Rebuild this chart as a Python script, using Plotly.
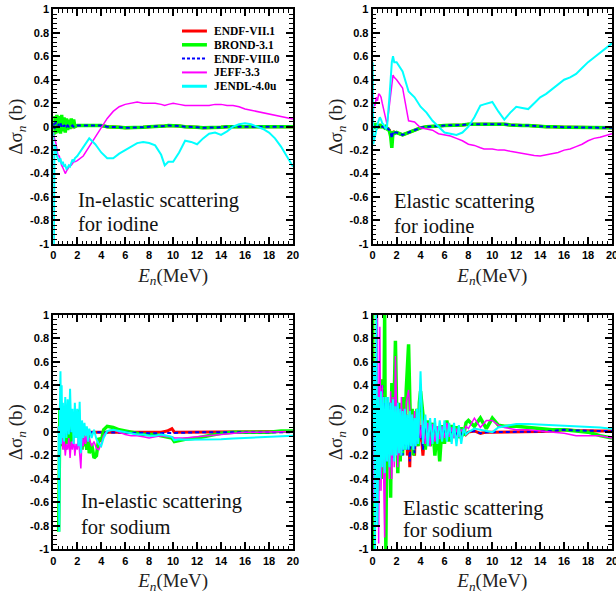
import plotly.graph_objects as go
from plotly.subplots import make_subplots

# ---------------------------------------------------------------------------
# Evaluated-library cross-section differences, Δσ_n (barn) vs neutron energy
# ---------------------------------------------------------------------------
LIBRARIES = ["ENDF-VII.1", "BROND-3.1", "ENDF-VIII.0", "JEFF-3.3", "JENDL-4.0u"]

# Energy grid (MeV) for iodine
E_IODINE = [0.0, 0.05, 0.1, 0.2, 0.3, 0.4, 0.5, 0.6, 0.7, 0.8,
            0.9, 1.0, 1.1, 1.2, 1.3, 1.4, 1.5, 1.6, 1.7, 1.8,
            2.0, 2.5, 3.0, 3.5, 4.0, 4.5, 5.0, 5.5, 6.0, 6.5,
            7.0, 7.5, 8.0, 8.5, 9.0, 9.3, 9.6, 10.0, 10.5, 11.0,
            11.5, 12.0, 12.5, 13.0, 13.5, 14.0, 14.5, 15.0, 15.5, 16.0,
            16.5, 17.0, 17.5, 18.0, 18.5, 19.0, 19.5, 20.0]

# Iodine, inelastic scattering
I_INEL_ENDF71 = [0.03, -0.02, 0.03, -0.02, 0.04, -0.03, 0.03, -0.02, 0.03, -0.02,
                 0.02, -0.01, 0.02, 0.0, 0.01, 0.0, 0.01, 0.0, 0.01, 0.0,
                 0.01, 0.01, 0.01, 0.01, 0.01, 0.0, 0.0, -0.005, -0.01, -0.01,
                 -0.01, -0.005, 0.0, 0.0, 0.005, 0.005, 0.01, 0.01, 0.005, 0.0,
                 0.0, -0.005, -0.01, -0.01, -0.01, -0.005, 0.0, 0.0, 0.0, 0.0,
                 0.0, 0.0, 0.0, 0.0, 0.0, 0.0, 0.0, 0.0]
I_INEL_BROND = [0.08, -0.07, 0.09, -0.06, 0.1, -0.05, 0.09, -0.06, 0.1, -0.04,
                0.08, -0.05, 0.07, -0.03, 0.06, -0.02, 0.07, -0.01, 0.06, 0.0,
                0.01, 0.01, 0.01, 0.01, 0.01, 0.0, 0.0, -0.005, -0.01, -0.01,
                -0.01, -0.005, 0.0, 0.0, 0.005, 0.005, 0.01, 0.01, 0.005, 0.0,
                0.0, -0.005, -0.01, -0.01, -0.01, -0.005, 0.0, 0.0, 0.0, 0.0,
                0.0, 0.0, 0.0, 0.0, 0.0, 0.0, 0.0, 0.0]
I_INEL_ENDF80 = [0.0, 0.03, -0.02, 0.04, -0.01, 0.03, 0.0, 0.03, 0.0, 0.02,
                 0.0, 0.02, 0.0, 0.01, 0.0, 0.01, 0.0, 0.01, 0.0, 0.01,
                 0.01, 0.01, 0.01, 0.01, 0.01, 0.0, 0.0, -0.005, -0.01, -0.01,
                 -0.01, -0.005, 0.0, 0.0, 0.005, 0.005, 0.01, 0.01, 0.005, 0.0,
                 0.0, -0.005, -0.01, -0.01, -0.01, -0.005, 0.0, 0.0, 0.0, 0.0,
                 0.0, 0.0, 0.0, 0.0, 0.0, 0.0, 0.0, 0.0]
I_INEL_JEFF = [-0.05, -0.08, -0.1, -0.13, -0.2, -0.25, -0.25, -0.3, -0.33, -0.35,
               -0.37, -0.4, -0.38, -0.36, -0.35, -0.33, -0.33, -0.31, -0.3, -0.3,
               -0.29, -0.25, -0.17, -0.08, 0.0, 0.07, 0.13, 0.17, 0.19, 0.2,
               0.21, 0.2, 0.2, 0.2, 0.19, 0.18, 0.19, 0.2, 0.19, 0.18,
               0.18, 0.18, 0.18, 0.18, 0.19, 0.19, 0.18, 0.18, 0.17, 0.15,
               0.14, 0.13, 0.12, 0.11, 0.1, 0.09, 0.08, 0.065]
I_INEL_JENDL = [-0.05, -1.0, -0.15, -0.18, -0.25, -0.28, -0.3, -0.27, -0.32, -0.3,
                -0.34, -0.33, -0.36, -0.35, -0.33, -0.34, -0.3, -0.28, -0.3, -0.27,
                -0.25, -0.18, -0.1, -0.15, -0.22, -0.27, -0.27, -0.23, -0.2, -0.17,
                -0.14, -0.13, -0.14, -0.16, -0.24, -0.33, -0.3, -0.3, -0.22, -0.12,
                -0.13, -0.15, -0.1, -0.06, -0.05, -0.07, -0.04, 0.0, 0.02, 0.03,
                0.02, 0.0, -0.02, -0.05, -0.1, -0.17, -0.25, -0.34]

# Iodine, elastic scattering
I_EL_ENDF71 = [0.0, 0.01, -0.01, 0.02, -0.01, 0.01, 0.0, 0.01, 0.0, 0.0,
               0.0, -0.01, 0.0, -0.01, -0.02, -0.03, -0.06, -0.12, -0.04, -0.05,
               -0.05, -0.07, -0.05, -0.03, -0.01, 0.0, 0.0, 0.005, 0.01, 0.01,
               0.015, 0.015, 0.02, 0.02, 0.02, 0.025, 0.025, 0.025, 0.02, 0.02,
               0.015, 0.01, 0.01, 0.01, 0.005, 0.0, 0.0, 0.0, -0.005, -0.005,
               -0.005, -0.005, -0.005, -0.005, -0.01, -0.01, -0.01, -0.01]
I_EL_BROND = [0.0, 0.02, -0.02, 0.03, -0.02, 0.02, -0.01, 0.02, 0.0, 0.0,
              0.0, -0.01, 0.0, -0.02, -0.02, -0.04, -0.08, -0.18, -0.04, -0.06,
              -0.05, -0.07, -0.05, -0.03, -0.01, 0.0, 0.0, 0.005, 0.01, 0.01,
              0.015, 0.015, 0.02, 0.02, 0.02, 0.025, 0.025, 0.025, 0.02, 0.02,
              0.015, 0.01, 0.01, 0.01, 0.005, 0.0, 0.0, 0.0, -0.005, -0.005,
              -0.005, -0.005, -0.005, -0.005, -0.01, -0.01, -0.01, -0.01]
I_EL_ENDF80 = [0.0, 0.01, -0.01, 0.01, 0.0, 0.01, 0.0, 0.0, 0.0, 0.0,
               0.0, -0.01, 0.0, -0.01, -0.02, -0.03, -0.05, -0.1, -0.04, -0.05,
               -0.05, -0.07, -0.05, -0.03, -0.01, 0.0, 0.0, 0.005, 0.01, 0.01,
               0.015, 0.015, 0.02, 0.02, 0.02, 0.025, 0.025, 0.025, 0.02, 0.02,
               0.015, 0.01, 0.01, 0.01, 0.005, 0.0, 0.0, 0.0, -0.005, -0.005,
               -0.005, -0.005, -0.005, -0.005, -0.01, -0.01, -0.01, -0.01]
I_EL_JEFF = [0.05, 0.15, 0.2, 0.18, 0.25, 0.22, 0.28, 0.27, 0.25, 0.2,
             0.15, 0.1, 0.05, 0.02, 0.1, 0.2, 0.3, 0.38, 0.44, 0.42,
             0.4, 0.33, 0.05, 0.04, -0.01, -0.02, -0.03, -0.06, -0.07, -0.08,
             -0.1, -0.12, -0.15, -0.16, -0.18, -0.19, -0.19, -0.19, -0.2, -0.2,
             -0.21, -0.22, -0.23, -0.24, -0.245, -0.25, -0.24, -0.23, -0.22, -0.2,
             -0.19, -0.17, -0.15, -0.12, -0.1, -0.09, -0.075, -0.06]
I_EL_JENDL = [0.55, -0.15, -0.12, -0.08, -0.02, 0.02, 0.05, 0.08, 0.06, 0.03,
              0.02, 0.0, -0.02, 0.0, 0.1, 0.25, 0.4, 0.55, 0.6, 0.55,
              0.55, 0.47, 0.3, 0.25, 0.17, 0.12, 0.05, 0.0, -0.05, -0.06,
              -0.07, -0.05, 0.0, 0.08, 0.18, 0.19, 0.2, 0.21, 0.13, 0.06,
              0.12, 0.17, 0.16, 0.15, 0.2, 0.25, 0.28, 0.32, 0.36, 0.4,
              0.42, 0.45, 0.5, 0.55, 0.59, 0.63, 0.67, 0.71]

# Energy grid (MeV) for sodium, inelastic scattering
E_NA_INEL = [0.45, 0.5, 0.55, 0.6, 0.65, 0.7, 0.75, 0.8, 0.9, 1.0,
             1.1, 1.2, 1.3, 1.4, 1.5, 1.6, 1.7, 1.8, 1.9, 2.0,
             2.1, 2.2, 2.3, 2.4, 2.5, 2.6, 2.7, 2.8, 2.9, 3.0,
             3.2, 3.4, 3.6, 3.8, 4.0, 4.2, 4.5, 5.0, 5.5, 6.0,
             6.5, 7.0, 7.5, 8.0, 8.5, 9.0, 9.5, 9.9, 10.1, 10.5,
             11.0, 12.0, 13.0, 14.0, 15.0, 16.0, 17.0, 18.0, 19.0, 20.0]

NA_INEL_ENDF71 = [0.0, 0.05, -0.05, 0.08, -0.05, 0.06, -0.04, 0.05, -0.03, 0.04,
                  -0.03, 0.04, -0.02, 0.03, -0.02, 0.03, -0.01, 0.02, -0.01, 0.02,
                  -0.01, 0.01, 0.0, 0.01, 0.0, 0.0, 0.0, 0.0, 0.0, 0.0,
                  0.0, 0.0, 0.0, 0.0, 0.0, 0.0, 0.0, 0.0, 0.0, 0.0,
                  0.0, 0.0, 0.005, 0.0, 0.005, 0.0, 0.01, 0.03, 0.0, 0.0,
                  0.0, 0.0, 0.0, 0.0, 0.0, 0.0, 0.0, 0.0, 0.0, 0.005]
NA_INEL_BROND = [-0.85, 0.05, 0.2, -0.1, 0.18, -0.12, 0.2, -0.05, 0.15, -0.15,
                 0.12, -0.1, 0.2, -0.12, 0.15, -0.08, 0.12, -0.05, 0.18, -0.05,
                 0.19, -0.1, 0.05, -0.15, 0.05, -0.12, -0.05, -0.15, 0.0, -0.18,
                 -0.1, -0.22, -0.2, -0.05, -0.08, 0.02, 0.05, 0.04, 0.02, 0.01,
                 0.0, -0.01, -0.02, -0.02, -0.02, -0.03, -0.04, -0.05, -0.08, -0.07,
                 -0.06, -0.05, -0.03, -0.01, 0.0, 0.0, 0.0, 0.0, 0.01, 0.01]
NA_INEL_ENDF80 = [0.0, 0.03, -0.03, 0.05, -0.03, 0.04, -0.02, 0.03, -0.02, 0.02,
                  -0.02, 0.02, -0.01, 0.02, -0.01, 0.01, 0.0, 0.01, 0.0, 0.01,
                  0.0, 0.0, 0.0, 0.0, 0.0, 0.0, 0.0, 0.0, 0.0, 0.0,
                  0.0, 0.0, 0.0, 0.0, 0.0, 0.0, 0.0, 0.0, 0.0, 0.0,
                  0.0, -0.005, -0.005, -0.01, -0.01, -0.01, -0.01, -0.01, -0.01, -0.01,
                  -0.005, 0.0, 0.0, 0.0, 0.0, 0.0, 0.0, 0.0, 0.0, 0.0]
NA_INEL_JEFF = [0.0, -0.1, 0.0, -0.05, -0.1, -0.02, -0.08, -0.15, -0.05, -0.2,
                -0.1, -0.15, -0.05, -0.22, -0.08, -0.15, -0.05, -0.2, -0.1, -0.15,
                -0.05, -0.2, -0.31, -0.05, -0.12, -0.03, -0.1, -0.02, -0.08, -0.05,
                -0.12, -0.08, -0.14, -0.15, -0.1, -0.03, 0.01, 0.02, 0.0, -0.02,
                -0.03, -0.03, -0.04, -0.05, -0.04, -0.03, -0.04, -0.04, -0.05, -0.05,
                -0.05, -0.04, -0.03, -0.02, -0.01, 0.0, 0.0, 0.0, 0.0, 0.005]
NA_INEL_JENDL = [0.05, -0.85, 0.2, 0.52, -0.1, 0.4, -0.05, 0.25, -0.08, 0.3,
                 -0.05, 0.28, -0.02, 0.37, 0.0, 0.2, -0.1, 0.25, -0.05, 0.2,
                 -0.12, 0.26, -0.18, 0.1, -0.05, 0.08, -0.03, 0.05, -0.08, 0.03,
                 -0.05, 0.02, -0.06, -0.1, -0.12, -0.05, 0.01, 0.02, 0.01, 0.0,
                 -0.01, -0.02, -0.02, -0.03, -0.03, -0.02, -0.03, -0.04, -0.07, -0.06,
                 -0.065, -0.065, -0.06, -0.06, -0.055, -0.05, -0.045, -0.04, -0.035, -0.03]

# Energy grid (MeV) for sodium, elastic scattering
E_NA_EL = [0.0, 0.1, 0.2, 0.3, 0.4, 0.5, 0.6, 0.7, 0.8, 0.9,
           1.0, 1.1, 1.2, 1.3, 1.4, 1.5, 1.6, 1.7, 1.8, 1.9,
           2.0, 2.1, 2.2, 2.3, 2.4, 2.5, 2.6, 2.7, 2.8, 2.9,
           3.0, 3.1, 3.2, 3.3, 3.4, 3.5, 3.6, 3.7, 3.8, 3.9,
           4.0, 4.2, 4.4, 4.6, 4.8, 5.0, 5.2, 5.4, 5.6, 5.8,
           6.0, 6.2, 6.4, 6.6, 6.8, 7.0, 7.2, 7.4, 7.6, 7.8,
           8.0, 8.5, 9.0, 9.5, 10.0, 10.5, 11.0, 12.0, 13.0, 14.0,
           15.0, 16.0, 17.0, 18.0, 19.0, 20.0]

NA_EL_ENDF71 = [0.2, -0.3, 0.3, -0.25, 0.2, -0.3, 0.25, -0.2, 0.45, -0.25,
                0.3, -0.2, 0.2, -0.25, 0.2, -0.15, 0.25, -0.2, 0.2, -0.15,
                0.2, -0.25, 0.15, -0.2, 0.15, -0.15, 0.2, -0.1, 0.15, -0.2,
                0.1, -0.3, 0.12, -0.1, 0.1, -0.2, 0.08, -0.12, 0.1, -0.08,
                0.06, -0.2, 0.08, -0.1, 0.06, -0.05, 0.04, -0.06, 0.05, -0.04,
                0.04, -0.05, 0.03, -0.03, 0.02, -0.03, 0.03, -0.05, 0.02, -0.02,
                0.0, 0.01, -0.01, 0.0, 0.0, 0.0, 0.0, 0.0, 0.005, 0.005,
                0.01, 0.02, 0.015, 0.01, 0.01, 0.01]
NA_EL_BROND = [1.0, -1.0, 0.3, -0.2, 0.4, -0.5, 0.35, -0.3, 0.45, -0.4,
               1.0, -1.0, 0.3, -0.3, 0.25, -0.56, 0.42, -0.2, 0.3, 0.78,
               0.2, -0.35, 0.25, -0.25, 0.2, -0.2, 0.3, -0.15, 0.35, 0.5,
               0.75, 0.3, -0.15, 0.2, -0.2, 0.15, -0.1, 0.2, -0.12, 0.25,
               0.35, 0.15, -0.15, 0.1, -0.12, 0.08, -0.2, 0.05, -0.25, 0.06,
               -0.1, 0.1, -0.08, 0.06, -0.05, 0.05, -0.05, 0.04, -0.03, 0.08,
               0.1, 0.05, 0.12, 0.03, 0.12, 0.06, 0.05, 0.05, 0.04, 0.03,
               0.02, 0.02, 0.01, 0.0, -0.03, -0.05]
NA_EL_ENDF80 = [0.15, -0.25, 0.3, -0.2, 0.25, -0.2, 0.3, -0.15, 0.4, -0.2,
                0.25, -0.25, 0.2, -0.2, 0.25, -0.1, 0.2, -0.22, 0.15, -0.1,
                0.15, -0.2, 0.2, -0.15, 0.1, -0.2, 0.15, -0.12, 0.1, -0.15,
                0.12, -0.25, 0.1, -0.12, 0.08, -0.18, 0.1, -0.1, 0.08, -0.06,
                0.05, -0.15, 0.06, -0.08, 0.05, -0.06, 0.03, -0.05, 0.04, -0.03,
                0.03, -0.04, 0.02, -0.02, 0.02, -0.02, 0.02, -0.03, 0.01, -0.01,
                0.0, 0.01, -0.01, 0.0, 0.0, 0.0, 0.0, 0.0, 0.005, 0.005,
                0.01, 0.02, 0.015, 0.01, 0.01, 0.01]
NA_EL_JEFF = [0.2, -0.6, 0.5, -0.4, 1.0, -0.95, 0.9, -0.5, 0.4, -0.3,
              -0.9, 0.3, -0.2, 0.25, -0.4, 0.35, -0.4, 0.3, -0.3, 0.65,
              0.25, -0.3, 0.2, -0.2, 0.3, -0.15, 0.2, -0.1, 0.25, 0.3,
              0.36, 0.2, -0.12, 0.15, -0.15, 0.18, -0.1, 0.12, -0.08, 0.1,
              -0.05, 0.1, -0.1, 0.08, -0.12, 0.07, -0.08, 0.05, -0.06, 0.05,
              -0.05, 0.08, -0.04, 0.04, -0.05, 0.03, -0.04, 0.02, 0.0, 0.05,
              0.03, 0.12, 0.04, 0.1, 0.1, 0.06, 0.04, 0.02, 0.02, 0.01,
              0.0, -0.01, -0.03, -0.03, -0.03, -0.05]
NA_EL_JENDL = [0.0, 0.6, -1.0, 1.0, -0.8, 0.3, -0.4, 0.35, -0.3, 0.3,
               -0.35, 0.3, -0.25, 0.3, -0.3, 0.25, -0.2, 0.28, -0.25, 0.22,
               -0.2, 0.25, -0.18, 0.2, -0.2, 0.18, -0.15, 0.2, -0.15, 0.15,
               -0.15, 0.18, -0.12, 0.15, -0.15, 0.12, -0.12, 0.2, -0.1, 0.3,
               0.52, -0.1, 0.15, -0.12, 0.12, -0.1, 0.12, -0.1, 0.1, -0.08,
               0.1, -0.08, 0.08, -0.1, 0.08, -0.12, 0.06, -0.1, 0.03, -0.02,
               0.0, 0.03, 0.02, 0.01, 0.0, 0.04, 0.05, 0.07, 0.07, 0.065,
               0.06, 0.055, 0.05, 0.05, 0.04, 0.03]

# Axis ticks
X_TICKS = [0, 2, 4, 6, 8, 10, 12, 14, 16, 18, 20]
Y_TICKS = [-1, -0.8, -0.6, -0.4, -0.2, 0, 0.2, 0.4, 0.6, 0.8, 1]
Y_TICK_TEXT = ["-1", "-0.8", "-0.6", "-0.4", "-0.2", "0", "0.2", "0.4", "0.6", "0.8", "1"]

# Line styles per library (colour, width, dash)
STYLE = {
    "ENDF-VII.1": ("#ff0000", 3.0, "solid"),
    "BROND-3.1": ("#00ff00", 3.5, "solid"),
    "ENDF-VIII.0": ("#0000ff", 2.0, "4px,3px"),
    "JEFF-3.3": ("#ff00ff", 1.5, "solid"),
    "JENDL-4.0u": ("#00ffff", 2.0, "solid"),
}

PANELS = [
    # (row, col, energy grid, series in library order, caption lines)
    (1, 1, E_IODINE,
     [I_INEL_ENDF71, I_INEL_BROND, I_INEL_ENDF80, I_INEL_JEFF, I_INEL_JENDL],
     ["In-elastic scattering", "for iodine"]),
    (1, 2, E_IODINE,
     [I_EL_ENDF71, I_EL_BROND, I_EL_ENDF80, I_EL_JEFF, I_EL_JENDL],
     ["Elastic scattering", "for iodine"]),
    (2, 1, E_NA_INEL,
     [NA_INEL_ENDF71, NA_INEL_BROND, NA_INEL_ENDF80, NA_INEL_JEFF, NA_INEL_JENDL],
     ["In-elastic scattering", "for sodium"]),
    (2, 2, E_NA_EL,
     [NA_EL_ENDF71, NA_EL_BROND, NA_EL_ENDF80, NA_EL_JEFF, NA_EL_JENDL],
     ["Elastic scattering", "for sodium"]),
]

# caption placement inside each panel: left edge and the two line centres
# (axis-domain units)
CAPTION_POS = [(0.093, 0.187, 0.085), (0.082, 0.181, 0.077),
               (0.108, 0.203, 0.097), (0.120, 0.176, 0.082)]

X_DOMAINS = {1: [0.0865, 0.4756], 2: [0.6050, 0.9935]}
Y_DOMAINS = {1: [0.5940, 0.9845], 2: [0.0860, 0.4759]}

SERIF = "Liberation Serif"
SANS = "Liberation Sans"

fig = make_subplots(rows=2, cols=2)

for idx, (row, col, energy, series, caption) in enumerate(PANELS):
    for name, values in zip(LIBRARIES, series):
        color, width, dash = STYLE[name]
        fig.add_trace(
            go.Scatter(x=energy, y=values, mode="lines", name=name,
                       line=dict(color=color, width=width, dash=dash),
                       showlegend=False, hoverinfo="skip"),
            row=row, col=col)

    n = idx + 1
    suffix = "" if n == 1 else str(n)
    cx, cy1, cy2 = CAPTION_POS[idx]
    for line_text, cy in zip(caption, (cy1, cy2)):
        fig.add_annotation(
            text=line_text, x=cx, y=cy, xref=f"x{suffix} domain", yref=f"y{suffix} domain",
            xanchor="left", yanchor="middle", align="left", showarrow=False,
            font=dict(family=SERIF, size=20.5, color="#111"))

    axis_common = dict(showline=True, linecolor="black", linewidth=2, mirror="allticks",
                       ticks="inside", tickwidth=1.5, tickcolor="black", ticklen=7,
                       showgrid=False, zeroline=False, automargin=False,
                       ticklabeloverflow="allow",
                       tickfont=dict(family=SANS, size=11, color="black", weight="bold"))
    fig.update_xaxes(range=[0, 20], tickvals=X_TICKS, domain=X_DOMAINS[col],
                     minor=dict(dtick=0.4, tick0=0, ticks="inside", ticklen=3.5,
                                tickwidth=1.2, tickcolor="black"),
                     title=dict(text="<i>E</i><sub><i>n</i></sub>(MeV)", standoff=8,
                                font=dict(family=SERIF, size=19, color="#222")),
                     row=row, col=col, **axis_common)
    fig.update_yaxes(range=[-1.0005, 1.0005], tickvals=Y_TICKS, ticktext=Y_TICK_TEXT,
                     domain=Y_DOMAINS[row],
                     minor=dict(dtick=0.04, tick0=0, ticks="inside", ticklen=3.5,
                                tickwidth=1.2, tickcolor="black"),
                     title=dict(text="Δσ<sub><i>n</i></sub> (b)", standoff=2,
                                font=dict(family=SERIF, size=19, color="#222")),
                     row=row, col=col, **axis_common)

# Legend drawn inside the first panel
LEGEND_ROWS_Y = [0.9075, 0.8488, 0.7899, 0.7311, 0.6722]
KEY_WIDTH = {"ENDF-VII.1": 3, "BROND-3.1": 3.5, "ENDF-VIII.0": 2,
             "JEFF-3.3": 2, "JENDL-4.0u": 3}
for name, ly in zip(LIBRARIES, LEGEND_ROWS_Y):
    color, width, dash = STYLE[name]
    key_dash = "3px,2px" if dash != "solid" else "solid"
    fig.add_shape(type="line", xref="x domain", yref="y domain",
                  x0=0.537, x1=0.641, y0=ly, y1=ly,
                  line=dict(color=color, width=KEY_WIDTH[name], dash=key_dash))
    fig.add_annotation(text=name, xref="x domain", yref="y domain", x=0.662, y=ly,
                       xanchor="left", yanchor="middle", showarrow=False,
                       font=dict(family=SERIF, size=11.5, color="black", weight="bold"))

fig.update_layout(width=616, height=601, margin=dict(l=0, r=0, t=0, b=0, autoexpand=False),
                  paper_bgcolor="white", plot_bgcolor="white", showlegend=False)

fig.write_html("out.html")
